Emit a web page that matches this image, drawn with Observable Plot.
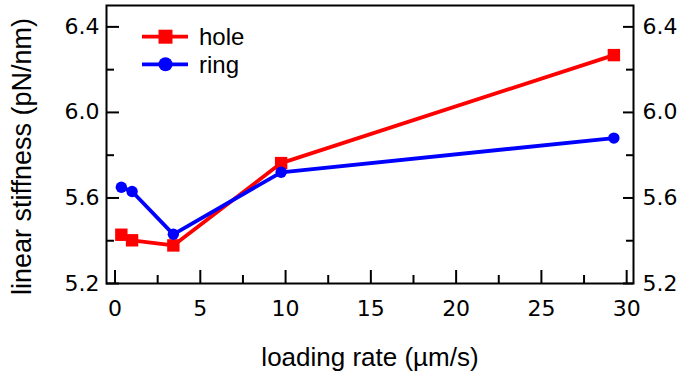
<!DOCTYPE html>
<html>
<head>
<meta charset="utf-8">
<script src="https://cdn.jsdelivr.net/npm/d3@7"></script>
<script src="https://cdn.jsdelivr.net/npm/@observablehq/plot@0.6"></script>
<style>
  body { margin: 0; background: #fff; }
  #chart { position: relative; width: 683px; height: 376px; }
</style>
</head>
<body>
<div id="chart"></div>
<script>
// Loading rate (µm/s) for each measurement
const loadingRate = [0.37, 1.0, 3.42, 9.74, 29.25];
// Linear stiffness (pN/nm) per trap geometry
const holeStiffness = [5.428, 5.402, 5.378, 5.763, 6.268];
const ringStiffness = [5.650, 5.630, 5.430, 5.720, 5.880];

const seriesNames = ["hole", "ring"];
const seriesColors = ["#ff0000", "#0000ff"];
const seriesSymbols = ["square", "circle"];

const xTicks = [0, 5, 10, 15, 20, 25, 30];
const xMinorTicks = [2.5, 7.5, 12.5, 17.5, 22.5, 27.5];
const yTicks = [5.2, 5.6, 6.0, 6.4];
const yMinorTicks = [5.4, 5.8, 6.2];

const xTitle = "loading rate (µm/s)";
const yTitle = "linear stiffness (pN/nm)";

const rows = [
  ...loadingRate.map((x, i) => ({series: "hole", x, y: holeStiffness[i]})),
  ...loadingRate.map((x, i) => ({series: "ring", x, y: ringStiffness[i]}))
];

const W = 683, H = 376;
const mL = 106, mR = 50, mT = 5, mB = 93;
const innerW = W - mL - mR, innerH = H - mT - mB;
const font = "'Liberation Sans', Arial, Helvetica, sans-serif";
const tickFont = "'DejaVu Sans', sans-serif";
const tickStyle = {stroke: "black", strokeWidth: 2};
const tickText = {fontFamily: tickFont, fontSize: 22, tickSize: 0, label: null};
const lineWidth = 3.8;

const chart = Plot.plot({
  width: W,
  height: H,
  marginLeft: mL,
  marginRight: mR,
  marginTop: mT,
  marginBottom: mB,
  style: {fontFamily: font, fontSize: "24px", color: "black", background: "white"},
  x: {domain: [-0.5, 30.4]},
  y: {domain: [5.2, 6.5]},
  color: {domain: seriesNames, range: seriesColors},
  symbol: {domain: seriesNames, range: seriesSymbols},
  marks: [
    // tick labels only; tick lines are drawn inward below
    Plot.axisX(xTicks, {...tickText, tickPadding: 17, tickFormat: d => String(d)}),
    Plot.axisY(yTicks, {...tickText, anchor: "left", tickPadding: 7, tickFormat: d => d.toFixed(1)}),
    Plot.axisY(yTicks, {...tickText, anchor: "right", tickPadding: 9, tickFormat: d => d.toFixed(1)}),
    // inward ticks
    Plot.tickX(xTicks, {x: d => d, insetTop: innerH - 13, ...tickStyle}),
    Plot.tickX(xMinorTicks, {x: d => d, insetTop: innerH - 8, ...tickStyle}),
    Plot.tickY(yTicks, {y: d => d, insetRight: innerW - 13, ...tickStyle}),
    Plot.tickY(yMinorTicks, {y: d => d, insetRight: innerW - 8, ...tickStyle}),
    Plot.tickY(yTicks, {y: d => d, insetLeft: innerW - 10, ...tickStyle}),
    Plot.tickY(yMinorTicks, {y: d => d, insetLeft: innerW - 7, ...tickStyle}),
    Plot.frame({stroke: "black", strokeWidth: 2}),
    // series
    Plot.line(rows, {x: "x", y: "y", z: "series", stroke: "series", strokeWidth: lineWidth}),
    Plot.dot(rows.filter(d => d.series === "hole"), {x: "x", y: "y", symbol: "series", fill: "series", r: 7}),
    Plot.dot(rows.filter(d => d.series === "ring"), {x: "x", y: "y", symbol: "series", fill: "series", r: 5.7}),
    // axis titles
    Plot.text([xTitle], {text: d => d, frameAnchor: "bottom", textAnchor: "middle", lineAnchor: "middle", dy: 74, fontSize: 26, fill: "black"}),
    Plot.text([yTitle], {text: d => d, frameAnchor: "left", textAnchor: "middle", lineAnchor: "middle", dx: -84, dy: 12, rotate: -90, fontSize: 27, fill: "black"})
  ]
});

document.getElementById("chart").appendChild(chart);

// Legend in the upper-left corner of the plot area
const svg = d3.select(chart);
const legend = svg.append("g").attr("font-family", font).attr("font-size", 24).attr("text-anchor", "start");
seriesNames.forEach((name, i) => {
  const cy = 36.7 + i * 27.6;
  const g = legend.append("g").attr("transform", `translate(0,${cy})`);
  g.append("line").attr("x1", 142).attr("x2", 188).attr("y1", 0).attr("y2", 0)
    .attr("stroke", seriesColors[i]).attr("stroke-width", lineWidth);
  const sym = seriesSymbols[i] === "square" ? d3.symbolSquare : d3.symbolCircle;
  const size = seriesSymbols[i] === "square" ? 14 * 14 : Math.PI * 7 * 7;
  g.append("path").attr("d", d3.symbol(sym, size)()).attr("transform", "translate(165.5,0)")
    .attr("fill", seriesColors[i]);
  g.append("text").attr("x", 199).attr("y", 0).attr("dy", "0.35em").attr("fill", "black").text(name);
});
</script>
</body>
</html>
